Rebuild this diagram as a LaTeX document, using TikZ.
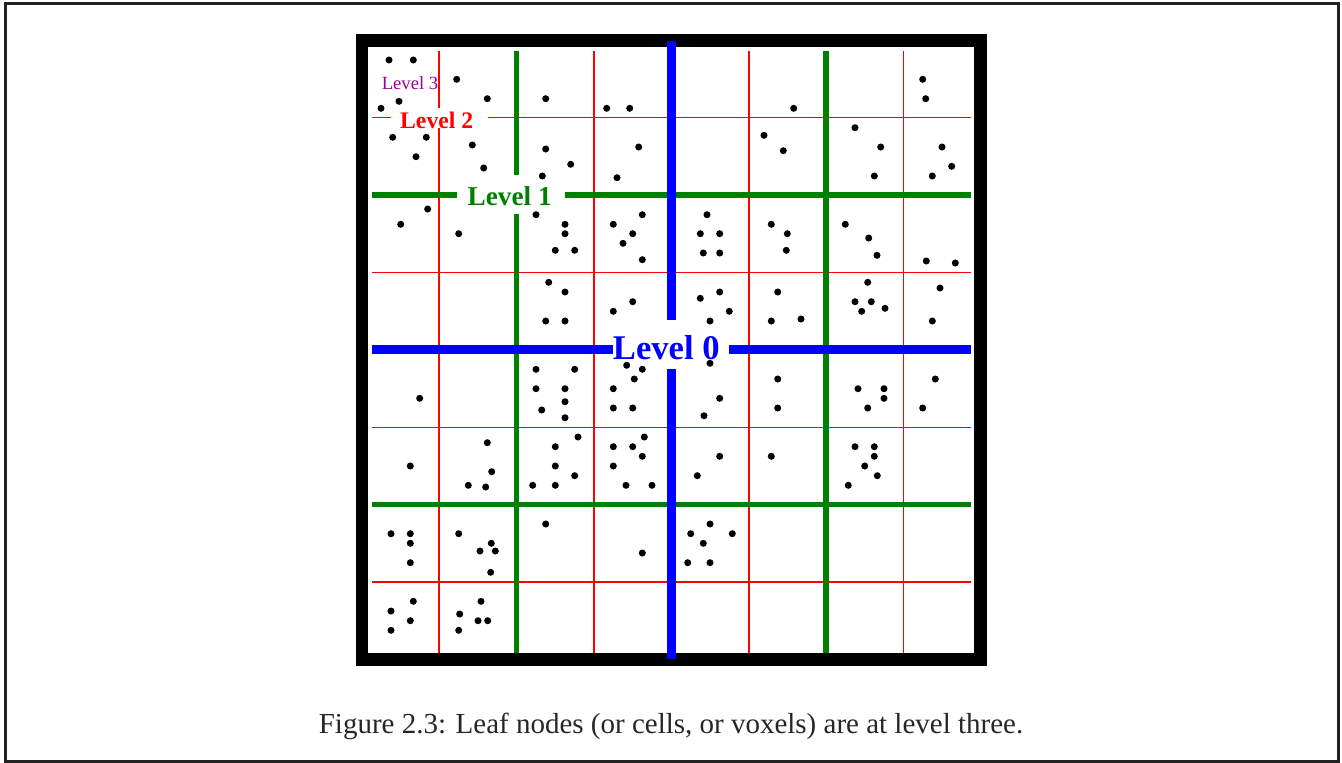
\documentclass[tikz,border=0pt]{standalone}
\usepackage{fontspec}
\setmainfont{Liberation Serif}
\usepackage{xcolor}

\definecolor{lvlgreen}{RGB}{0,128,0}
\definecolor{lvlpurple}{RGB}{153,0,153}
\definecolor{framegray}{RGB}{34,34,34}

\begin{document}
\begin{tikzpicture}[x=0.02cm,y=-0.02cm,
  redline/.style={red,line width=0.9pt},
  greenline/.style={lvlgreen,line width=3pt},
  blueline/.style={blue,line width=5.1pt},
  lvltext/.style={inner sep=0pt,anchor=base}]
\useasboundingbox (0,0) rectangle (1342,762);
\draw[framegray,line width=1.7pt](5.3,3.7) rectangle (1338.7,761);
\draw[black,line width=7.1pt](362,40.3) rectangle (980.5,659.5);
% level 2 cells
\draw[redline](439.1,50.7)--(439.1,107.7)
(439.1,128.3)--(439.1,652.7);
\foreach \x in {593.9,748.7,903.5}
  \draw[redline](\x,50.7)--(\x,652.7);
\draw[redline](371.7,117.7)--(390.7,117.7)
(488.3,117.7)--(971,117.7);
\foreach \y in {272.5,427.3,582.1}
  \draw[redline](371.7,\y)--(971,\y);
% level 1 cells
\draw[greenline](516.5,50.7)--(516.5,175)
(516.5,214)--(516.5,652.7)
(826.1,50.7)--(826.1,652.7);
\draw[greenline](371.7,195.1)--(457.3,195.1)
(565,195.1)--(971,195.1)
(371.7,504.7)--(971,504.7);
% level 0
\draw[blueline](671.3,40.7)--(671.3,320)
(671.3,369.3)--(671.3,659.3);
\draw[blueline](371.7,349.9)--(612.7,349.9)
(729.3,349.9)--(970.7,349.9);
% points
\foreach \dx/\dy in {389/60,413.3/60,456.7/79.3,399/101.3,381/108.3,487.3/98.7,
  545.7/98.7,606.7/108.3,629.7/108.3,392.7/137.3,426.3/137.3,416/156.7,472.3/145,
  483.7/168,545.7/149,570.7/164.3,542.3/176,638.7/147,617/177.7,427.7/209,
  400.7/224.3,458.7/233.7,536/214.7,565/224.3,565/233.7,555.3/250.3,574.7/250.3,
  642.3/214.7,613.3/224.3,632.7/233.7,623/243.3,642.3/259.7,548.7/282.3,565/292,
  545.7/321,565/321,632.7/301.7,613.3/311.3,
  922.7/79.3,925.7/98.7,793.7/108.3,764/135.3,783.3/150.7,855/127.7,880.7/147,
  874.3/176,942/147,951.7/166.3,932.3/176,707/214.7,700.3/233.7,719.7/233.7,
  703.3/253,719.7/253,771.3/224.3,787.3/233.7,786.3/250.3,845.3/224.3,868.7/238,
  877/255.3,926.3/261,955.3/263,700.3/298.3,719.7/292,729.3/311.3,710/321,
  777.7/292,771.3/321,801/319,867.7/282.3,855/301.7,871.3/301.7,861.7/311.3,
  885/308.3,940/288,932.3/321,
  419.7/398.3,536/369.3,574.7/369.3,536/388.7,565/388.7,565/401.7,541.7/410,
  565/417.7,626.7/365.3,642.3/369.3,634.3/379,613.3/388.7,613.3/408,632.7/408,
  410.3/466,487.3/442.7,491.7/471.7,468.3/485.3,485.7/487,578/437,555.3/446.7,
  555.3/466,574.7/475.7,532.7/485.3,555.3/485.3,644.3/437,613.3/446.7,632.7/446.7,
  642.3/456.3,613.3/466,626/485.3,652/485.3,391/533.7,410.3/533.7,410.3/543.3,
  410.3/562.7,458.7/533.7,491.3/543.3,480/551,495.3/551,490.7/572.3,545.7/524,
  642.3/553,413.3/601.3,391/611,410.3/620.7,391/630.3,481/601.3,459.7/614,
  478/620.7,487.7/620.7,458.7/630.3,
  710/363.3,719.7/398.3,704/415.7,777.7/379,777.7/408,858/388.7,884/388.7,
  884/398.3,867.7/408,935.3/379,922.7/408,719.7/456.3,697.3/475.7,771.3/456.3,
  855/446.7,874.3/446.7,874.3/456.3,864.7/466,877.3/475.7,848.3/485.3,710/524,
  690.7/533.7,732.3/533.7,703.3/543.3,687.7/562.7,710/562.7}
  \fill (\dx,\dy) circle[radius=2pt];
% labels
\node[lvltext,lvlpurple,font=\fontsize{10.6}{12}\selectfont] (lvl3) at (410,89) {Level 3};
\node[lvltext,red,font=\fontsize{13.5}{15}\selectfont\bfseries] (lvl2) at (436.7,128.3) {Level 2};
\node[lvltext,lvlgreen,font=\fontsize{15.5}{17}\selectfont\bfseries] (lvl1) at (509.7,205) {Level 1};
\node[lvltext,blue,font=\fontsize{19.7}{22}\selectfont\bfseries] (lvl0) at (666.3,359.3) {Level 0};
\node[lvltext,black!85,font=\fontsize{16.5}{19}\selectfont] (caption) at (671,733)
  {Figure 2.3: Leaf nodes (or cells, or voxels) are at level three.};
\end{tikzpicture}
\end{document}
